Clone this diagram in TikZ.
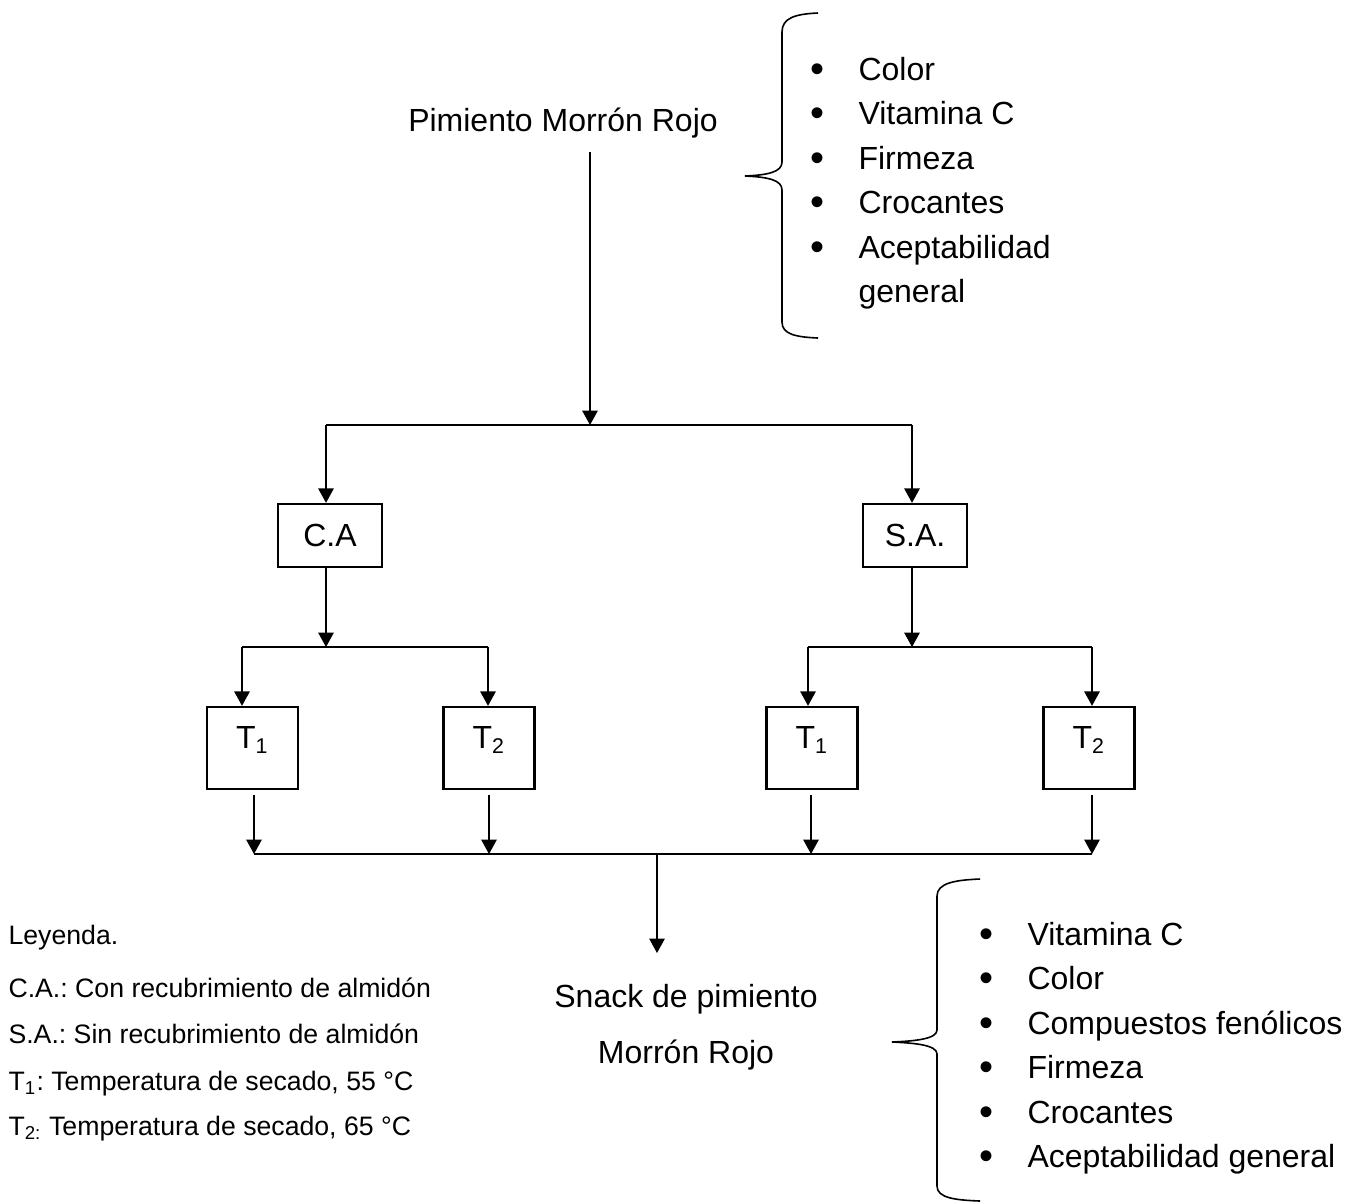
\documentclass[tikz,border=0pt]{standalone}
\usepackage{fontspec}
\setmainfont{Liberation Sans}
\usetikzlibrary{arrows.meta}
\frenchspacing

\newcommand{\vineta}{\llap{\raisebox{-0.9pt}{\fontsize{15}{15}\selectfont\textbullet}\hspace{12.7pt}}}

\begin{document}
\begin{tikzpicture}[x=0.375pt, y=-0.375pt,
    arr/.style={-{Triangle[length=5.4pt,width=5.8pt]}, line width=0.5pt},
    conn/.style={line width=0.5pt},
    caja/.style={draw, line width=0.9pt, inner sep=0pt, font=\fontsize{12}{14}\selectfont},
    tcaja/.style={caja, minimum width=34pt, minimum height=30.75pt, text height=8.6pt, text depth=8.2pt},
    texto/.style={inner sep=0pt, font=\fontsize{12}{14}\selectfont},
    item/.style={texto, anchor=base west},
    ley/.style={inner sep=0pt, anchor=base west, font=\fontsize{10}{12}\selectfont},
    llave/.style={line width=0.6pt}]
    \useasboundingbox (0,0) rectangle (1360,1202);

    \coordinate (j1) at (590,425);
    \coordinate (j1l) at (326,425);
    \coordinate (j1r) at (912,425);
    \coordinate (j2) at (326,647);
    \coordinate (j2l) at (242,647);
    \coordinate (j2r) at (488,647);
    \coordinate (j3) at (912,647);
    \coordinate (j3l) at (808,647);
    \coordinate (j3r) at (1092,647);
    \coordinate (j4a) at (254,854);
    \coordinate (j4b) at (489,854);
    \coordinate (j4c) at (811,854);
    \coordinate (j4d) at (1092,854);
    \coordinate (j4m) at (657,854);
    \coordinate (snk) at (657,953);

    \node[texto, anchor=base, inner ysep=5pt] (pim) at (563,131) {Pimiento Morrón Rojo};
    \node[caja, minimum width=39pt, minimum height=23.6pt] (ca) at (330,535.5) {C.A};
    \node[caja, minimum width=39pt, minimum height=23.6pt] (sa) at (915,535.5) {S.A.};
    \node[tcaja] (t1a) at (252.5,748) {T\textsubscript{1}};
    \node[tcaja] (t2a) at (489,748) {T\textsubscript{2}};
    \node[tcaja] (t1b) at (812,748) {T\textsubscript{1}};
    \node[tcaja] (t2b) at (1089,748) {T\textsubscript{2}};
    \node[texto, anchor=base, align=center, font=\fontsize{12}{21}\selectfont] (snack) at (686,1063) {Snack de pimiento\\Morrón Rojo};

    \draw[arr] (pim.south -| j1) -- (j1);
    \draw[conn] (j1l) -- (j1r);
    \draw[arr] (j1l) -- (j1l |- ca.north);
    \draw[arr] (j1r) -- (j1r |- sa.north);

    \draw[arr] (ca.south -| j2) -- (j2);
    \draw[conn] (j2l) -- (j2r);
    \draw[arr] (j2l) -- (j2l |- t1a.north);
    \draw[arr] (j2r) -- (j2r |- t2a.north);

    \draw[arr] (sa.south -| j3) -- (j3);
    \draw[conn] (j3l) -- (j3r);
    \draw[arr] (j3l) -- (j3l |- t1b.north);
    \draw[arr] (j3r) -- (j3r |- t2b.north);

    \draw[arr, shorten <=1.9pt] (t1a.south -| j4a) -- (j4a);
    \draw[arr, shorten <=1.9pt] (t2a.south -| j4b) -- (j4b);
    \draw[arr, shorten <=1.9pt] (t1b.south -| j4c) -- (j4c);
    \draw[arr, shorten <=1.9pt] (t2b.south -| j4d) -- (j4d);
    \draw[conn] (j4a) -- (j4d);
    \draw[arr] (j4m) -- (snk);

    \draw[llave] (818,13) .. controls (795,14) and (782,18) .. (782,32) -- (782,162)
        .. controls (782,172) and (768,175) .. (745,176) .. controls (768,177) and (782,180) .. (782,190)
        -- (782,322) .. controls (782,334) and (795,337) .. (818,338);
    \node[item] (ca1) at (858,80) {\vineta Color};
    \node[item] (ca2) at (858,124.5) {\vineta Vitamina C};
    \node[item] (ca3) at (858,169) {\vineta Firmeza};
    \node[item] (ca4) at (858,213.5) {\vineta Crocantes};
    \node[item] (ca5) at (858,258) {\vineta Aceptabilidad};
    \node[item] (ca6) at (858,302.5) {general};

    \draw[llave] (980,879) .. controls (955,880) and (937,883) .. (937,896) -- (937,1030)
        .. controls (937,1039) and (915,1041) .. (892,1042) .. controls (915,1043) and (937,1045) .. (937,1054)
        -- (937,1186) .. controls (937,1198) and (955,1200) .. (980,1201);
    \node[item] (sn1) at (1027,945) {\vineta Vitamina C};
    \node[item] (sn2) at (1027,989.5) {\vineta Color};
    \node[item] (sn3) at (1027,1034) {\vineta Compuestos fenólicos};
    \node[item] (sn4) at (1027,1078.5) {\vineta Firmeza};
    \node[item] (sn5) at (1027,1123) {\vineta Crocantes};
    \node[item] (sn6) at (1027,1167.5) {\vineta Aceptabilidad general};

    \node[ley] (ley0) at (8,944) {Leyenda.};
    \node[ley] (ley1) at (8,997) {C.A.: Con recubrimiento de almidón};
    \node[ley] (ley2) at (8,1043) {S.A.: Sin recubrimiento de almidón};
    \node[ley] (ley3) at (8,1090) {T\textsubscript{1}: Temperatura de secado, 55 °C};
    \node[ley] (ley4) at (8,1135) {T\textsubscript{2:} Temperatura de secado, 65 °C};
\end{tikzpicture}
\end{document}
